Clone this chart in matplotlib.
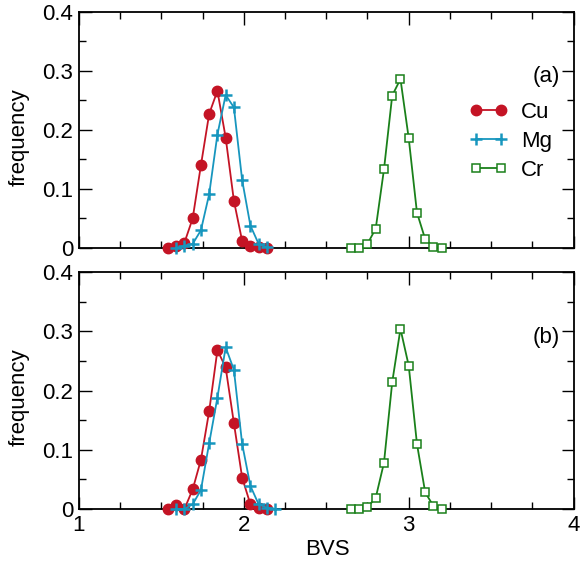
import matplotlib
matplotlib.use("Agg")
import matplotlib.pyplot as plt
from matplotlib.ticker import MultipleLocator

plt.rcParams['font.family'] = ['Liberation Sans', 'DejaVu Sans']

# top panel (a)
cu_x_a = [1.54, 1.59, 1.64, 1.69, 1.74, 1.79, 1.84, 1.89, 1.94, 1.99, 2.04, 2.09, 2.14]
cu_y_a = [0.0, 0.003, 0.009, 0.050, 0.140, 0.227, 0.266, 0.187, 0.080, 0.012, 0.003, 0.002, 0.0]
mg_x_a = [1.59, 1.64, 1.69, 1.74, 1.79, 1.84, 1.89, 1.94, 1.99, 2.04, 2.09, 2.14]
mg_y_a = [0.0, 0.004, 0.007, 0.030, 0.091, 0.192, 0.259, 0.238, 0.115, 0.038, 0.007, 0.001]
cr_x_a = [2.65, 2.70, 2.75, 2.80, 2.85, 2.90, 2.95, 3.00, 3.05, 3.10, 3.15, 3.20]
cr_y_a = [0.0, 0.0, 0.007, 0.033, 0.133, 0.258, 0.286, 0.186, 0.060, 0.015, 0.002, 0.0]

# bottom panel (b)
cu_x_b = [1.54, 1.59, 1.64, 1.69, 1.74, 1.79, 1.84, 1.89, 1.94, 1.99, 2.04, 2.09, 2.14]
cu_y_b = [0.0, 0.006, 0.0, 0.033, 0.083, 0.165, 0.268, 0.239, 0.145, 0.053, 0.008, 0.001, 0.0]
mg_x_b = [1.59, 1.64, 1.69, 1.74, 1.79, 1.84, 1.89, 1.94, 1.99, 2.04, 2.09, 2.14, 2.19]
mg_y_b = [0.0, 0.0, 0.008, 0.032, 0.111, 0.188, 0.273, 0.235, 0.110, 0.039, 0.008, 0.002, 0.0]
cr_x_b = [2.65, 2.70, 2.75, 2.80, 2.85, 2.90, 2.95, 3.00, 3.05, 3.10, 3.15, 3.20]
cr_y_b = [0.0, 0.0, 0.003, 0.019, 0.078, 0.214, 0.304, 0.242, 0.110, 0.028, 0.005, 0.0]

red = '#c41425'
cyan = '#1796be'
green = '#1a801a'
fs = 16

fig = plt.figure(figsize=(5.8, 5.66), dpi=100)
ax_a = fig.add_axes([0.136, 0.5618, 0.853, 0.4176])
ax_b = fig.add_axes([0.136, 0.1007, 0.853, 0.4187])


def draw(ax, cu_x, cu_y, mg_x, mg_y, cr_x, cr_y, tag):
    ax.plot(cu_x, cu_y, '-', color=red, lw=1.3, marker='o', ms=7.5,
            mfc=red, mec=red, label='Cu', clip_on=False, zorder=3)
    ax.plot(mg_x, mg_y, '-', color=cyan, lw=1.3, marker='+', ms=8,
            mew=1.8, label='Mg', clip_on=False, zorder=3)
    ax.plot(cr_x, cr_y, '-', color=green, lw=1.3, marker='s', ms=5.5,
            mfc='white', mec=green, mew=1.1, label='Cr', clip_on=False, zorder=3)
    ax.set_xlim(1, 4)
    ax.set_ylim(0, 0.4)
    ax.xaxis.set_major_locator(MultipleLocator(1))
    ax.xaxis.set_minor_locator(MultipleLocator(0.25))
    ax.yaxis.set_major_locator(MultipleLocator(0.1))
    ax.yaxis.set_minor_locator(MultipleLocator(0.05))
    ax.tick_params(which='both', direction='in', top=True, right=True,
                   labelsize=fs, width=1.0)
    ax.tick_params(which='major', length=9, pad=4)
    ax.tick_params(which='minor', length=5)
    ax.set_yticks([0, 0.1, 0.2, 0.3, 0.4])
    ax.set_yticklabels(['0', '0.1', '0.2', '0.3', '0.4'])
    for s in ax.spines.values():
        s.set_linewidth(1.3)
    ax.set_ylabel('frequency', fontsize=fs)
    ax.yaxis.set_label_coords(-0.100, 0.47)
    ax.text(0.945, 0.725, tag, transform=ax.transAxes,
            fontsize=fs, ha='center', va='center')


draw(ax_a, cu_x_a, cu_y_a, mg_x_a, mg_y_a, cr_x_a, cr_y_a, '(a)')
draw(ax_b, cu_x_b, cu_y_b, mg_x_b, mg_y_b, cr_x_b, cr_y_b, '(b)')

ax_a.tick_params(labelbottom=False)
ax_a.legend(loc='upper left', bbox_to_anchor=(0.772, 0.655), borderaxespad=0,
            frameon=False, fontsize=fs, handlelength=1.7, handletextpad=0.6,
            labelspacing=0.36, numpoints=2)
ax_b.set_xticks([1, 2, 3, 4])
ax_b.set_xticklabels(['1', '2', '3', '4'])
ax_b.set_xlabel('BVS', fontsize=fs)
ax_b.xaxis.set_label_coords(0.503, -0.125)

fig.savefig('out.png', dpi=100)
